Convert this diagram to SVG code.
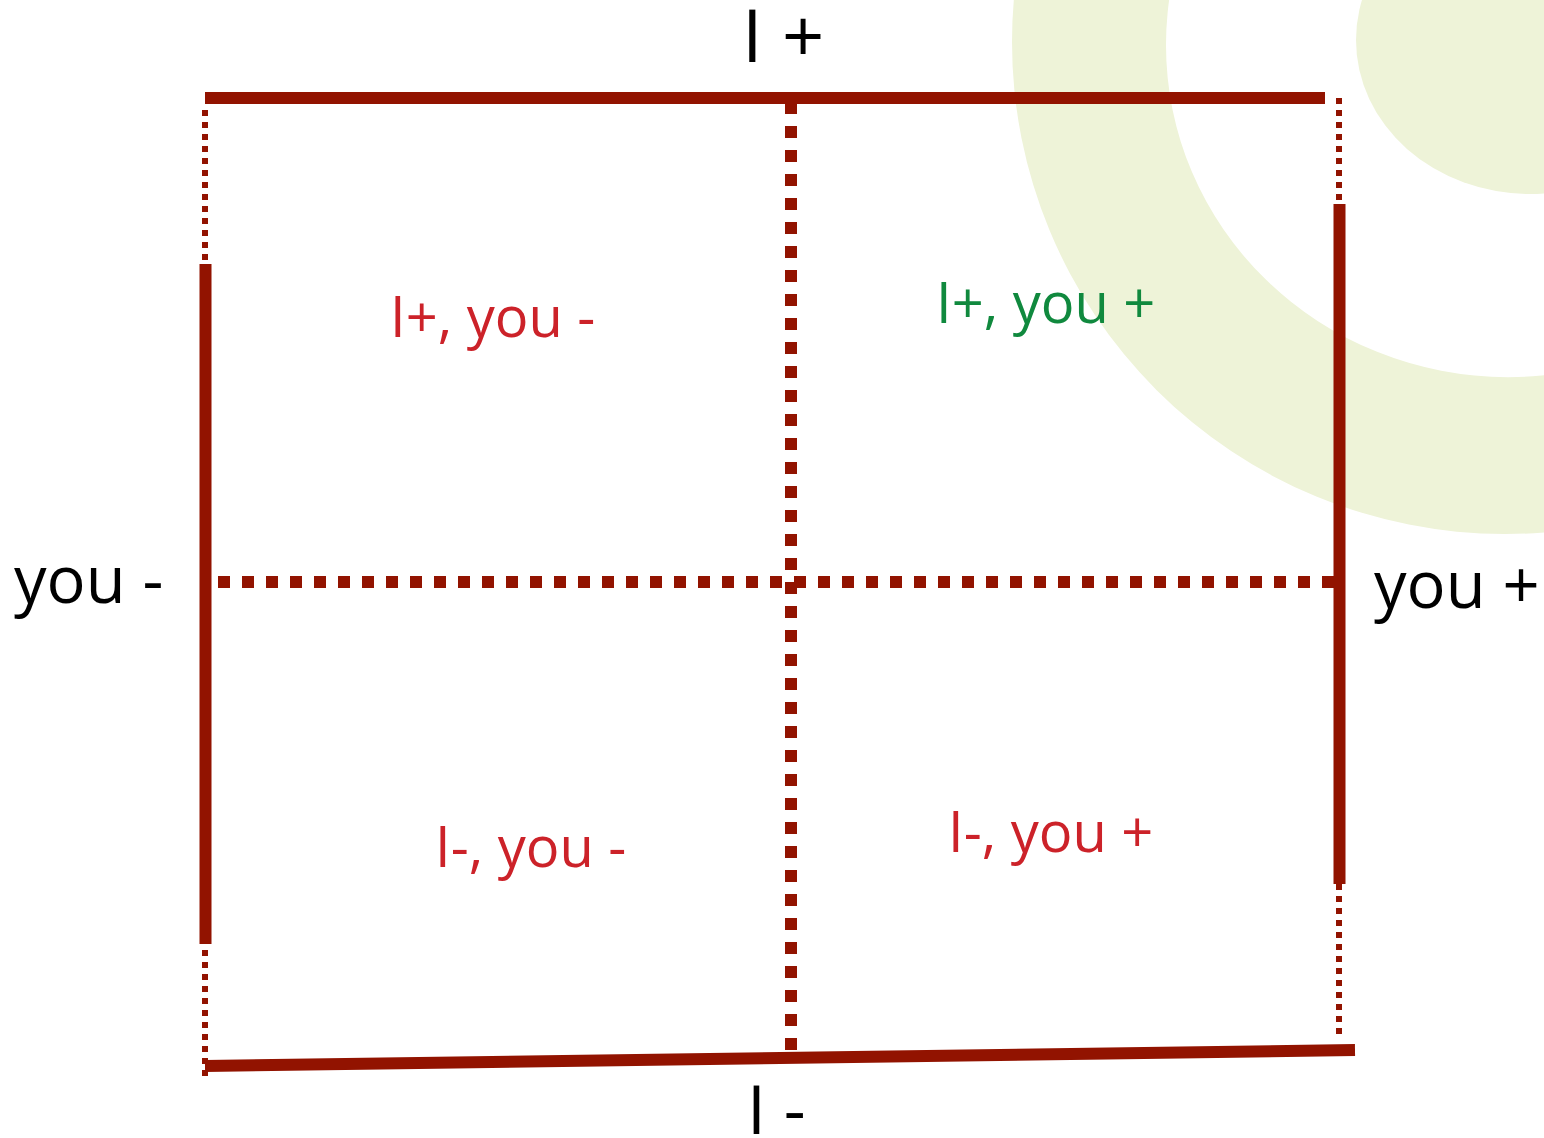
<svg xmlns="http://www.w3.org/2000/svg" width="1544" height="1138" viewBox="0 0 1544 1138">
<style>
.bg{fill:#EEF3D8}
.thick{stroke:#921300;stroke-width:12;fill:none}
.dotc{stroke:#921300;stroke-width:12;stroke-dasharray:12 12;fill:none}
.dott{stroke:#921300;stroke-width:6;stroke-dasharray:6 6;fill:none}
text{font-family:"Open Sans","Noto Sans","DejaVu Sans",sans-serif}
.ax{fill:#000}
.red{fill:#CC2229;font-size:56px}
.grn{fill:#10893E;font-size:56px}
</style>
<rect width="1544" height="1138" fill="#fff"/>
<g id="background">
<path class="bg" fill-rule="evenodd" d="M1012,42 a493,492 0 1,0 986,0 a493,492 0 1,0 -986,0 Z M1166,45 a342,332 0 1,0 684,0 a342,332 0 1,0 -684,0 Z"/>
<ellipse class="bg" cx="1530" cy="40" rx="174" ry="154"/>
</g>
<g id="connectors">
<line class="dott" x1="205" y1="110" x2="205" y2="1080"/>
<line class="dott" x1="1339" y1="98" x2="1339" y2="204"/>
<line class="dott" x1="1339" y1="884" x2="1339" y2="1036"/>
<line class="thick" x1="205" y1="98" x2="1325" y2="98"/>
<line class="thick" x1="205.5" y1="264" x2="205.5" y2="944"/>
<line class="thick" x1="1339.5" y1="204" x2="1339.5" y2="884"/>
<line class="thick" x1="205" y1="1066" x2="1355" y2="1050"/>
<line class="dotc" x1="791" y1="102" x2="791" y2="1050"/>
<line class="dotc" x1="218" y1="582" x2="1338" y2="582"/>
</g>
<g id="axis-labels">
<text class="ax" x="742" y="62" font-size="74">I +</text>
<text class="ax" x="747" y="1134" font-size="68">I -</text>
<text class="ax" x="14" y="603" font-size="65">you -</text>
<text class="ax" x="1374" y="608" font-size="65">you +</text>
</g>
<g id="q-tl"><text class="red" x="390" y="337">I+, you -</text></g>
<g id="q-tr"><text class="grn" x="936" y="323">I+, you +</text></g>
<g id="q-bl"><text class="red" x="435" y="867">I-, you -</text></g>
<g id="q-br"><text class="red" x="948" y="852">I-, you +</text></g>
</svg>
